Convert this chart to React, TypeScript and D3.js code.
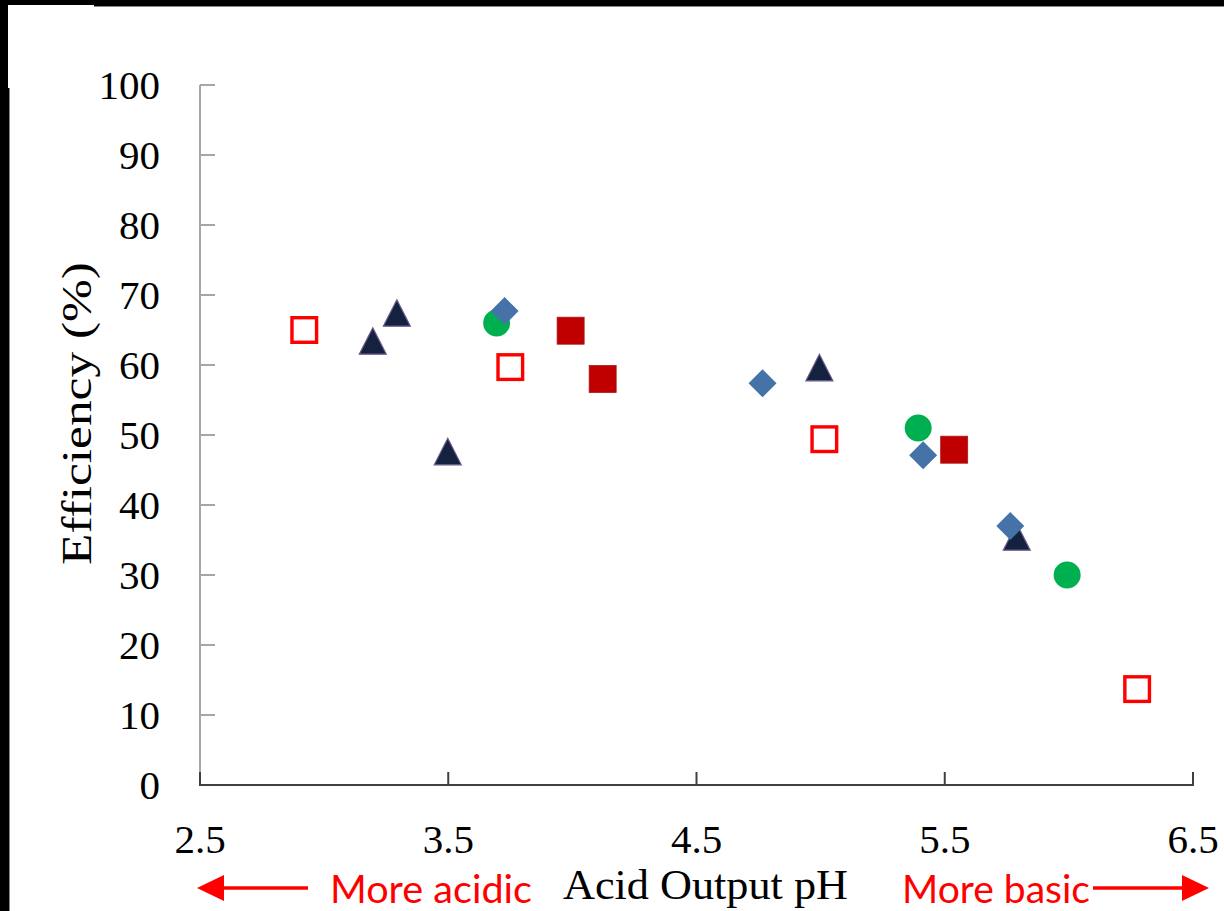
import React from "react";
import * as d3 from "d3";

const xTicks = [2.5, 3.5, 4.5, 5.5, 6.5];
const yTicks = [0, 10, 20, 30, 40, 50, 60, 70, 80, 90, 100];

const openSquarePH = [2.92, 3.75, 5.015, 6.275];
const openSquareEff = [65.0, 59.7, 49.4, 13.7];

const trianglePH = [3.196, 3.293, 3.498, 4.995, 5.79];
const triangleEff = [63.4, 67.4, 47.6, 59.6, 35.4];

const diamondPH = [3.727, 4.766, 5.413, 5.764];
const diamondEff = [67.7, 57.4, 47.1, 37.0];

const circlePH = [3.695, 5.393, 5.993];
const circleEff = [66.0, 51.0, 30.0];

const filledSquarePH = [3.993, 4.122, 5.538];
const filledSquareEff = [64.9, 58.0, 47.9];

const W = 1224;
const H = 911;

export default function App() {
  const x = d3.scaleLinear().domain([2.5, 6.5]).range([200, 1193]);
  const y = d3.scaleLinear().domain([0, 100]).range([785, 85]);

  const pts = (xs: number[], ys: number[]) => xs.map((v, i) => [x(v), y(ys[i])] as [number, number]);

  const serif = "'Liberation Serif', 'Times New Roman', serif";
  const sans = "Lato, 'Liberation Sans', sans-serif";

  return (
    <svg
      width={W}
      height={H}
      viewBox={`0 0 ${W} ${H}`}
      style={{ position: "absolute", left: 0, top: 0, background: "#fff" }}
    >
      <rect x={0} y={0} width={W} height={H} fill="#fff" />
      {/* frame */}
      <rect x={0} y={0} width={W} height={6} fill="#000" />
      <line x1={94} x2={W} y1={6.5} y2={6.5} stroke="#888" strokeWidth={1} />
      <rect x={0} y={0} width={9} height={H} fill="#000" />
      <line x1={9.5} x2={9.5} y1={88} y2={H} stroke="#888" strokeWidth={1} />
      <rect x={8} y={5} width={86} height={83} fill="#fff" />

      {/* y axis */}
      <line x1={x(2.5)} x2={x(2.5)} y1={y(100)} y2={y(0)} stroke="#a6a6a6" strokeWidth={2} />
      {yTicks.map((t) => (
        <g key={"yt" + t}>
          <line x1={x(2.5)} x2={x(2.5) + 15} y1={y(t)} y2={y(t)} stroke="#a6a6a6" strokeWidth={2} />
          <text
            x={160}
            y={y(t)}
            dy="0.34em"
            textAnchor="end"
            fontFamily={serif}
            fontSize={41}
            fill="#000"
          >
            {t}
          </text>
        </g>
      ))}

      {/* x axis */}
      <line x1={x(2.5) - 1} x2={x(6.5) + 1} y1={y(0)} y2={y(0)} stroke="#404040" strokeWidth={2} />
      {xTicks.map((t) => (
        <g key={"xt" + t}>
          <line x1={x(t)} x2={x(t)} y1={y(0)} y2={y(0) - 13} stroke="#404040" strokeWidth={2} />
          <text x={x(t)} y={853} textAnchor="middle" fontFamily={serif} fontSize={41} fill="#000">
            {t.toFixed(1)}
          </text>
        </g>
      ))}

      {/* axis titles */}
      <text
        x={563}
        y={899}
        fontFamily={serif}
        fontSize={43}
        fill="#000"
        textLength={285}
        lengthAdjust="spacingAndGlyphs"
      >
        Acid Output pH
      </text>
      <text
        transform={`translate(91,565) rotate(-90)`}
        x={0}
        y={0}
        fontFamily={serif}
        fontSize={43}
        fill="#000"
        textLength={303}
        lengthAdjust="spacingAndGlyphs"
      >
        Efficiency (%)
      </text>

      {/* annotations */}
      <text
        x={330}
        y={903}
        fontFamily={sans}
        fontSize={38}
        fill="#ff0000"
        textLength={202}
        lengthAdjust="spacingAndGlyphs"
      >
        More acidic
      </text>
      <text
        x={902}
        y={903}
        fontFamily={sans}
        fontSize={38}
        fill="#ff0000"
        textLength={188}
        lengthAdjust="spacingAndGlyphs"
      >
        More basic
      </text>
      <line x1={218} x2={308} y1={888} y2={888} stroke="#ff0000" strokeWidth={3.5} />
      <path d="M197,888 L224,875 L224,901 Z" fill="#ff0000" />
      <line x1={1093} x2={1186} y1={888} y2={888} stroke="#ff0000" strokeWidth={3.5} />
      <path d="M1209,888 L1182,875 L1182,901 Z" fill="#ff0000" />

      {/* open red squares */}
      {pts(openSquarePH, openSquareEff).map(([cx, cy], i) => (
        <rect
          key={"os" + i}
          x={cx - 12.3}
          y={cy - 12.3}
          width={24.6}
          height={24.6}
          fill="#fff"
          stroke="#ff0000"
          strokeWidth={3.4}
        />
      ))}
      {/* filled dark red squares */}
      {pts(filledSquarePH, filledSquareEff).map(([cx, cy], i) => (
        <rect
          key={"fs" + i}
          x={cx - 13.5}
          y={cy - 13.5}
          width={27}
          height={27}
          fill="#c00000"
          stroke="#a81818"
          strokeWidth={0.8}
        />
      ))}
      {/* triangles */}
      {pts(trianglePH, triangleEff).map(([cx, cy], i) => (
        <path
          key={"tr" + i}
          d={`M${cx},${cy - 13.5} L${cx + 13.5},${cy + 13} L${cx - 13.5},${cy + 13} Z`}
          fill="#14213f"
          stroke="#6a5a8c"
          strokeWidth={1.2}
          strokeLinejoin="miter"
        />
      ))}
      {/* circles */}
      {pts(circlePH, circleEff).map(([cx, cy], i) => (
        <circle key={"ci" + i} cx={cx} cy={cy} r={13.5} fill="#00b050" />
      ))}
      {/* diamonds */}
      {pts(diamondPH, diamondEff).map(([cx, cy], i) => (
        <path
          key={"di" + i}
          d={`M${cx},${cy - 14} L${cx + 14},${cy} L${cx},${cy + 14} L${cx - 14},${cy} Z`}
          fill="#4573a7"
        />
      ))}
    </svg>
  );
}
